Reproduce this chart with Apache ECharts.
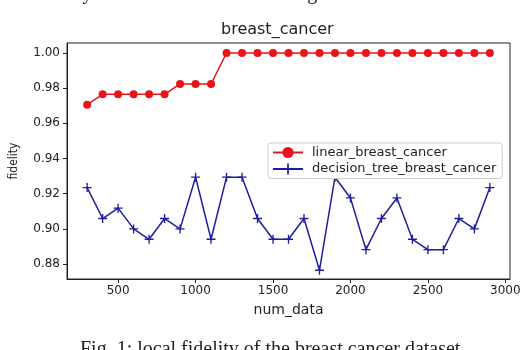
<!DOCTYPE html>
<html lang="en">
<head>
    <meta charset="UTF-8">
    <title>breast_cancer</title>
    <script src="https://cdn.jsdelivr.net/npm/echarts@6/dist/echarts.min.js"></script>
    <style>
        html, body {margin: 0; padding: 0; background: #fff;}
        #chart {width: 526px; height: 350px;}
    </style>
</head>
<body>
<div id="chart"></div>
<script type="text/javascript">
    // x values (num_data)
    const numData = [300, 400, 500, 600, 700, 800, 900, 1000, 1100, 1200, 1300, 1400, 1500, 1600,
        1700, 1800, 1900, 2000, 2100, 2200, 2300, 2400, 2500, 2600, 2700, 2800, 2900];
    // fidelity values
    const linearBreastCancer = [0.9706, 0.9765, 0.9765, 0.9765, 0.9765, 0.9765, 0.9824, 0.9824, 0.9824,
        1, 1, 1, 1, 1, 1, 1, 1, 1, 1, 1, 1, 1, 1, 1, 1, 1, 1];
    const decisionTreeBreastCancer = [0.9235, 0.9059, 0.9118, 0.9000, 0.8941, 0.9059, 0.9000, 0.9294, 0.8941,
        0.9294, 0.9294, 0.9059, 0.8941, 0.8941, 0.9059, 0.8765, 0.9294, 0.9176, 0.8882, 0.9059,
        0.9176, 0.8941, 0.8882, 0.8882, 0.9059, 0.9000, 0.9235];
    const xTicks = [500, 1000, 1500, 2000, 2500, 3000];
    const yTicks = [0.88, 0.90, 0.92, 0.94, 0.96, 0.98, 1.00];

    const red = '#e8141a';
    const blue = '#1e1e9c';
    const plus = 'path://M3.4,0H4.6V3.4H8V4.6H4.6V8H3.4V4.6H0V3.4H3.4Z';
    const font = 'DejaVu Sans';

    let chart = echarts.init(document.getElementById('chart'), null, {renderer: 'canvas'});

    let option = {
        animation: false,
        backgroundColor: '#fff',
        textStyle: {fontFamily: font},
        title: {
            text: 'breast_cancer',
            left: 221,
            top: 22,
            padding: 0,
            textStyle: {fontFamily: font, fontSize: 16, fontWeight: 'normal', color: '#222'}
        },
        grid: {
            left: 67, right: 16, top: 43, bottom: 71,
            show: true, borderColor: '#222', borderWidth: 1, backgroundColor: 'transparent'
        },
        legend: {
            orient: 'vertical',
            left: 268,
            top: 143,
            padding: [3, 6, 3, 4],
            itemWidth: 30,
            itemHeight: 14,
            itemGap: 3.5,
            borderColor: '#ccc',
            borderWidth: 1,
            borderRadius: 3,
            backgroundColor: '#fff',
            textStyle: {fontFamily: font, fontSize: 13, color: '#222', padding: [0, 0, 0, 4]},
            data: ['linear_breast_cancer', 'decision_tree_breast_cancer']
        },
        xAxis: {
            type: 'value',
            min: 170,
            max: 3030,
            name: 'num_data',
            nameLocation: 'middle',
            nameGap: 24,
            nameTextStyle: {fontFamily: font, fontSize: 14, color: '#222'},
            axisLine: {show: true, onZero: false, lineStyle: {color: '#222'}},
            axisTick: {show: true, length: 4, customValues: xTicks, lineStyle: {color: '#222'}},
            axisLabel: {
                customValues: xTicks, margin: 6, fontFamily: font, fontSize: 12, color: '#222',
                formatter: v => String(v)
            },
            splitLine: {show: false}
        },
        yAxis: {
            type: 'value',
            min: 0.8715,
            max: 1.0057,
            name: 'fidelity',
            nameLocation: 'middle',
            nameGap: 47,
            nameTextStyle: {fontFamily: '"DejaVu Sans Condensed", "DejaVu Sans"', fontSize: 12, color: '#222'},
            axisLine: {show: true, onZero: false, lineStyle: {color: '#222'}},
            axisTick: {show: true, length: 4, customValues: yTicks, lineStyle: {color: '#222'}},
            axisLabel: {
                customValues: yTicks, margin: 7, fontFamily: font, fontSize: 12, color: '#222',
                formatter: v => v.toFixed(2)
            },
            splitLine: {show: false}
        },
        series: [
            {
                name: 'linear_breast_cancer',
                type: 'line',
                data: numData.map((x, i) => [x, linearBreastCancer[i]]),
                symbol: 'circle',
                symbolSize: 8,
                showAllSymbol: true,
                lineStyle: {color: red, width: 1.5},
                itemStyle: {color: red}
            },
            {
                name: 'decision_tree_breast_cancer',
                type: 'line',
                data: numData.map((x, i) => [x, decisionTreeBreastCancer[i]]),
                symbol: plus,
                symbolSize: 9,
                showAllSymbol: true,
                lineStyle: {color: blue, width: 1.5},
                itemStyle: {color: blue}
            }
        ],
        graphic: [
            {   // text of the page above the figure, cut by the crop
                type: 'text', left: 58, top: -16,
                style: {text: 'may cause to overfit the training data', font: '20px "Liberation Serif"', fill: '#222'}
            },
            {   // caption below the figure, cut by the crop
                type: 'text', left: 80, top: 340,
                style: {text: 'Fig. 1: local fidelity of the breast cancer dataset', font: '20px "Liberation Serif"', fill: '#222'}
            }
        ]
    };
    chart.setOption(option);
</script>
</body>
</html>
